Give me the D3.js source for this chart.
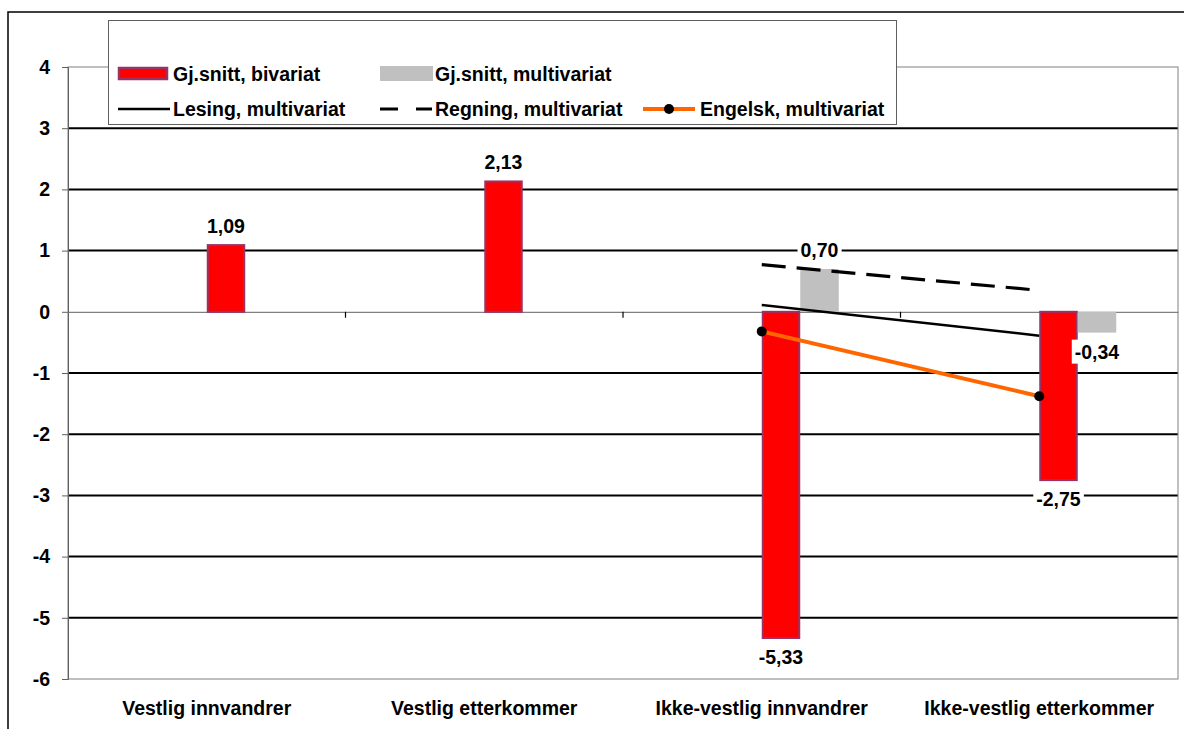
<!DOCTYPE html>
<html>
<head>
<meta charset="utf-8">
<script src="https://cdn.jsdelivr.net/npm/d3@7"></script>
<style>
  html, body { margin: 0; padding: 0; background: #fff; }
  svg { display: block; font-family: "Liberation Sans", Arial, sans-serif; font-weight: bold; }
</style>
</head>
<body>
<svg id="chart" width="1184" height="729"></svg>
<script>
// Group labels on the category axis
const categories = ["Vestlig innvandrer", "Vestlig etterkommer", "Ikke-vestlig innvandrer", "Ikke-vestlig etterkommer"];
// Bar series: average difference, bivariate and multivariate
const bivariat = [1.09, 2.13, -5.33, -2.75];
const multivariat = [null, null, 0.70, -0.34];
// Line series per subject (multivariate)
const lesing = [null, null, 0.11, -0.39];
const regning = [null, null, 0.77, 0.35];
const engelsk = [null, null, -0.32, -1.38];
// Value axis ticks
const yTicks = [4, 3, 2, 1, 0, -1, -2, -3, -4, -5, -6];

const fmt = v => d3.format(".2f")(v).replace(".", ",").replace("−", "-");

const svg = d3.select("#chart");
const plotL = 68, plotR = 1178, plotT = 67, plotB = 679;
const FONT = "19.5px";

// outer chart frame
svg.append("rect").attr("x", 8).attr("y", 12).attr("width", 1190).attr("height", 760)
  .attr("fill", "#fff").attr("stroke", "#000").attr("stroke-width", 1.5);

const y = d3.scaleLinear().domain([-6, 4]).range([plotB, plotT]);
const xb = d3.scaleBand().domain(categories).range([plotL, plotR]);
const cx = c => xb(c) + xb.bandwidth() / 2;
const barW = 38.5;
const xs = d3.scaleBand().domain(["bivariat", "multivariat"]).range([0, 2 * barW]);

// horizontal gridlines (black), excluding the plot border and zero axis
const gridVals = yTicks.filter(v => v !== 4 && v !== 0 && v !== -6);
svg.append("g").selectAll("line").data(gridVals).join("line")
  .attr("x1", plotL).attr("x2", plotR)
  .attr("y1", d => y(d)).attr("y2", d => y(d))
  .attr("stroke", "#000").attr("stroke-width", 2);

// plot area border
svg.append("rect").attr("x", plotL).attr("y", plotT).attr("width", plotR - plotL).attr("height", plotB - plotT)
  .attr("fill", "none").attr("stroke", "#808080").attr("stroke-width", 1);

// value axis
const yAxis = d3.axisLeft(y).tickValues(yTicks).tickSize(6).tickPadding(12).tickFormat(d3.format("d"));
const gy = svg.append("g").attr("transform", `translate(${plotL},0)`).call(yAxis);
gy.select(".domain").attr("stroke", "#606060");
gy.selectAll(".tick line").attr("stroke", "#606060");
gy.selectAll(".tick text").attr("font-size", FONT).attr("font-weight", "bold")
  .attr("font-family", "Liberation Sans, Arial, sans-serif").attr("fill", "#000")
  .text(d => d3.format("d")(d).replace("−", "-"));

// category axis crossing at zero, with tick marks between groups
const xAxis = d3.axisBottom(xb).tickSize(0).tickFormat("");
const gx = svg.append("g").attr("transform", `translate(0,${y(0)})`).call(xAxis);
gx.select(".domain").attr("stroke", "#808080").attr("stroke-width", 1.2);
svg.append("g").selectAll("line").data(categories.slice(1)).join("line")
  .attr("x1", d => xb(d)).attr("x2", d => xb(d))
  .attr("y1", y(0)).attr("y2", y(0) + 6)
  .attr("stroke", "#000").attr("stroke-width", 1.2);

// category labels at the bottom
svg.append("g").selectAll("text").data(categories).join("text")
  .attr("x", d => cx(d)).attr("y", 715)
  .attr("text-anchor", "middle").attr("font-size", FONT).attr("fill", "#000")
  .text(d => d);

// bars
const barRows = [];
categories.forEach((c, i) => {
  if (bivariat[i] != null) barRows.push({ c, key: "bivariat", v: bivariat[i] });
  if (multivariat[i] != null) barRows.push({ c, key: "multivariat", v: multivariat[i] });
});
svg.append("g").selectAll("rect").data(barRows).join("rect")
  .attr("x", d => cx(d.c) + xs(d.key) + (d.key === "bivariat" ? 1 : 0))
  .attr("width", d => xs.bandwidth() - (d.key === "bivariat" ? 2 : 0))
  .attr("y", d => Math.min(y(d.v), y(0)))
  .attr("height", d => Math.abs(y(d.v) - y(0)))
  .attr("fill", d => d.key === "bivariat" ? "#ff0000" : "#c0c0c0")
  .attr("stroke", d => d.key === "bivariat" ? "#993366" : "none")
  .attr("stroke-width", 2);

// value labels with white background
const labG = svg.append("g");
barRows.forEach(d => {
  const lx = cx(d.c) + xs(d.key) + xs.bandwidth() / 2;
  const ly = d.v >= 0 ? y(d.v) - 19 : y(d.v) + 19;
  const g = labG.append("g");
  const t = g.append("text").attr("x", lx).attr("y", ly).attr("dy", "0.36em")
    .attr("text-anchor", "middle").attr("font-size", FONT).attr("fill", "#000").text(fmt(d.v));
  const bb = t.node().getBBox();
  g.insert("rect", "text").attr("x", bb.x - 3).attr("y", bb.y - 1).attr("width", bb.width + 6).attr("height", bb.height + 2)
    .attr("fill", "#fff");
});

// subject lines
const linePts = arr => categories.map((c, i) => ({ c, v: arr[i] })).filter(d => d.v != null);
const line = d3.line().x(d => cx(d.c)).y(d => y(d.v));
svg.append("path").datum(linePts(regning)).attr("d", line)
  .attr("fill", "none").attr("stroke", "#000").attr("stroke-width", 3.2).attr("stroke-dasharray", "24,11");
svg.append("path").datum(linePts(lesing)).attr("d", line)
  .attr("fill", "none").attr("stroke", "#000").attr("stroke-width", 2.5);
svg.append("path").datum(linePts(engelsk)).attr("d", line)
  .attr("fill", "none").attr("stroke", "#ff6600").attr("stroke-width", 4);
svg.append("g").selectAll("circle").data(linePts(engelsk)).join("circle")
  .attr("cx", d => cx(d.c)).attr("cy", d => y(d.v)).attr("r", 5).attr("fill", "#000");

// legend
const lg = svg.append("g");
lg.append("rect").attr("x", 108.5).attr("y", 20.5).attr("width", 788).attr("height", 104)
  .attr("fill", "#fff").attr("stroke", "#606060").attr("stroke-width", 1);
const legendItems = [
  { label: "Gj.snitt, bivariat", type: "bar", fill: "#ff0000", stroke: "#993366", x: 118, y: 74 },
  { label: "Gj.snitt, multivariat", type: "bar", fill: "#c0c0c0", stroke: "none", x: 380, y: 74 },
  { label: "Lesing, multivariat", type: "line", color: "#000", w: 2.5, x: 118, y: 109 },
  { label: "Regning, multivariat", type: "dash", color: "#000", w: 3.2, x: 380, y: 109 },
  { label: "Engelsk, multivariat", type: "marker", color: "#ff6600", w: 4, x: 643, y: 109 }
];
legendItems.forEach(it => {
  const g = lg.append("g");
  if (it.type === "bar") {
    g.append("rect").attr("x", it.x + (it.stroke === "none" ? 0 : 1)).attr("y", it.y - 6)
      .attr("width", it.stroke === "none" ? 53 : 48).attr("height", it.stroke === "none" ? 15 : 11)
      .attr("transform", it.stroke === "none" ? "translate(0,-2)" : null)
      .attr("fill", it.fill).attr("stroke", it.stroke).attr("stroke-width", 2.5);
  } else {
    g.append("line").attr("x1", it.x).attr("x2", it.x + 52).attr("y1", it.y).attr("y2", it.y)
      .attr("stroke", it.color).attr("stroke-width", it.w)
      .attr("stroke-dasharray", it.type === "dash" ? "18,18" : null);
    if (it.type === "marker") {
      g.append("circle").attr("cx", it.x + 26).attr("cy", it.y).attr("r", 5).attr("fill", "#000");
    }
  }
  g.append("text").attr("x", it.x + (it.type === "marker" ? 57 : 55)).attr("y", it.y).attr("dy", "0.36em")
    .attr("font-size", FONT).attr("fill", "#000").text(it.label);
});
</script>
</body>
</html>
